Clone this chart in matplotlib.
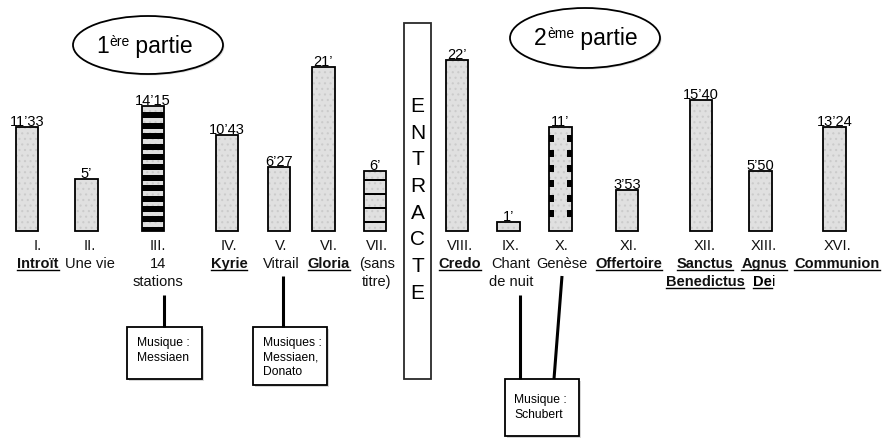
import matplotlib
matplotlib.use("Agg")
import matplotlib.pyplot as plt
from matplotlib.patches import Ellipse, Rectangle

plt.rcParams['font.family'] = ['Liberation Sans', 'DejaVu Sans']
plt.rcParams['hatch.linewidth'] = 0.8

# ---------------- data ----------------
numerals = ["I.", "II.", "III.", "IV.", "V.", "VI.", "VII.", "VIII.", "IX.", "X.",
            "XI.", "XII.", "XIII.", "XVI."]
titles = ["Introït", "Une vie", "14\nstations", "Kyrie", "Vitrail", "Gloria",
          "(sans\ntitre)", "Credo", "Chant\nde nuit", "Genèse", "Offertoire",
          "Sanctus\nBenedictus", "Agnus\nDei", "Communion"]
liturgical = [True, False, False, True, False, True, False, True, False, False,
              True, True, True, True]
durations = ["11’33", "5’", "14’15", "10’43", "6’27", "21’", "6’", "22’", "1’",
             "11’", "3’53", "15’40", "5’50", "13’24"]
# drawn bar heights (arbitrary units)
bar_heights = [104, 52, 125, 96, 64, 164, 60, 171, 9, 104, 41, 131, 60, 104]
patterns = ["plain", "plain", "stripes", "plain", "plain", "plain", "lines",
            "plain", "plain", "blocks", "plain", "plain", "plain", "plain"]
part_labels = [("1", "ère", " partie"), ("2", "ème", " partie")]
interlude = "ENTRACTE"
notes = ["Musique :\nMessiaen", "Musiques :\nMessiaen,\nDonato", "Musique :\nSchubert"]

# ---------------- layout (pixels) ----------------
W, H = 883, 439
BASE = 232
bar_x = [27, 86.5, 153, 227, 279, 323.5, 375, 457, 508.5, 560.5, 627, 701, 760.5, 834.5]
label_x = [38, 90, 158, 229, 281, 329, 377, 460, 511, 562, 629, 705, 764, 837]
BAR_W = 22.5
FS = 10.5

fig = plt.figure(figsize=(W / 100, H / 100), dpi=100)
ax = fig.add_axes([0, 0, 1, 1])
ax.set_xlim(0, W)
ax.set_ylim(BASE - H, BASE)
ax.axis('off')


def Y(py):
    return BASE - py


# bars: textured fill
ax.bar(bar_x, bar_heights, width=BAR_W, color='#e0e0e0', edgecolor='#cbcbcb',
       hatch='...', linewidth=0, zorder=2)

# patterns
for bx, h, pat in zip(bar_x, bar_heights, patterns):
    top = BASE - h
    if pat == "stripes":
        starts = []
        s = top + 6.3
        while s < BASE - 1:
            starts.append(s)
            s += 10.4
        for s in starts:
            e = min(s + 6, BASE - 0.5)
            ax.bar(bx, e - s, width=BAR_W, bottom=Y(e), color='black', linewidth=0, zorder=3)
    elif pat == "lines":
        for s in (181, 195, 209, 223):
            ax.bar(bx, 2.2, width=BAR_W, bottom=Y(s + 1.1), color='black', linewidth=0, zorder=3)
    elif pat == "blocks":
        for k in range(6):
            s = 136 + 15 * k
            for dx in (-BAR_W / 2 + 2.5, BAR_W / 2 - 2.5):
                ax.bar(bx + dx, 7, width=5, bottom=Y(s + 7), color='black', linewidth=0, zorder=3)

# bar outlines
ax.bar(bar_x, bar_heights, width=BAR_W, fill=False, edgecolor='black', linewidth=1.3, zorder=5)

# duration labels
for bx, h, d in zip(bar_x, bar_heights, durations):
    ax.text(bx, h + 2, d, ha='center', va='baseline', fontsize=FS, zorder=6)

# movement labels
underlined = []
pending_split = []
for lx, num, title, lit in zip(label_x, numerals, titles, liturgical):
    ax.text(lx, Y(250), num, ha='center', va='baseline', fontsize=FS, color='#111111')
    for k, line in enumerate(title.split("\n")):
        yb = Y(268 + 18.5 * k)
        if lit and line == "Dei":
            t1 = ax.text(lx, yb, "De", ha='left', va='baseline', fontsize=FS, fontweight='bold')
            t2 = ax.text(lx, yb, "i", ha='left', va='baseline', fontsize=FS)
            pending_split.append((lx, t1, t2))
            underlined.append((t1, yb))
        else:
            t = ax.text(lx, yb, line, ha='center', va='baseline', fontsize=FS,
                        fontweight='bold' if lit else 'normal', color='#111111')
            if lit:
                underlined.append((t, yb))

# part ellipses
ellipses = [((148, 46), 150, 58, 144.5, 53), ((585, 39), 150, 60, 586, 45)]
part_texts = []
for (c, w, hh, tx, tb), parts in zip(ellipses, part_labels):
    ax.add_patch(Ellipse((c[0] + 1.5, Y(c[1] + 1.5)), w, hh, facecolor='#c8c8c8',
                         edgecolor='none', alpha=0.6, zorder=3))
    ax.add_patch(Ellipse((c[0], Y(c[1])), w, hh, facecolor='white', edgecolor='black',
                         linewidth=1.3, zorder=4))
    a = ax.text(0, Y(tb), parts[0], ha='left', va='baseline', fontsize=16.5, zorder=6)
    b = ax.text(0, Y(tb - 7), parts[1], ha='left', va='baseline', fontsize=10, zorder=6)
    cc = ax.text(0, Y(tb), parts[2], ha='left', va='baseline', fontsize=16.5, zorder=6)
    part_texts.append((tx, a, b, cc))

# ENTRACTE box
ax.add_patch(Rectangle((404, Y(380)), 27, 356, facecolor='white', edgecolor='#2a2a2a',
                       linewidth=1.3, zorder=4))
for i, ch in enumerate(interlude):
    ax.text(417.5, Y(112 + 26.7 * i), ch, ha='center', va='baseline', fontsize=15, zorder=6)

# note boxes
boxes = [(127, 328, 202, 380, 137, 346), (253, 328, 327, 386, 263, 346),
         (505, 380, 579, 437, 514, 403)]
for (x0, y0, x1, y1, tx, tb), note in zip(boxes, notes):
    ax.add_patch(Rectangle((x0 + 2, Y(y1 + 2)), x1 - x0, y1 - y0, facecolor='#bdbdbd',
                           edgecolor='none', zorder=3, alpha=0.6))
    ax.add_patch(Rectangle((x0, Y(y1)), x1 - x0, y1 - y0, facecolor='white',
                           edgecolor='black', linewidth=1.3, zorder=4))
    for k, line in enumerate(note.split("\n")):
        ax.text(tx, Y(tb + 14.6 * k), line, ha='left', va='baseline', fontsize=8.7, zorder=6)

connectors = [((164, 296), (164, 328)), ((283, 277), (283, 328)),
              ((520, 296), (520, 380)), ((562, 277), (554, 380))]
for (xa, ya), (xb, yb) in connectors:
    ax.plot([xa, xb], [Y(ya), Y(yb)], color='black', linewidth=2.2, solid_capstyle='butt', zorder=5)

# ---------- layout pass for composite texts & underlines ----------
fig.canvas.draw()
r = fig.canvas.get_renderer()
inv = ax.transData.inverted()


def width_data(t):
    e = t.get_window_extent(r)
    return inv.transform((e.x1, 0))[0] - inv.transform((e.x0, 0))[0]


for lx, t1, t2 in pending_split:
    w1, w2 = width_data(t1), width_data(t2)
    x0 = lx - (w1 + w2) / 2
    t1.set_x(x0)
    t2.set_x(x0 + w1)

for tx, a, b, c in part_texts:
    wa, wb, wc = width_data(a), width_data(b), width_data(c)
    x0 = tx - (wa + wb + wc) / 2
    a.set_x(x0)
    b.set_x(x0 + wa)
    c.set_x(x0 + wa + wb)

fig.canvas.draw()
for t, yb in underlined:
    e = t.get_window_extent(r)
    xa = inv.transform((e.x0, 0))[0]
    xb = inv.transform((e.x1, 0))[0]
    ax.plot([xa, xb], [yb - 2.6, yb - 2.6], color='black', linewidth=1.0, zorder=6)

fig.savefig("out.png", dpi=100)
